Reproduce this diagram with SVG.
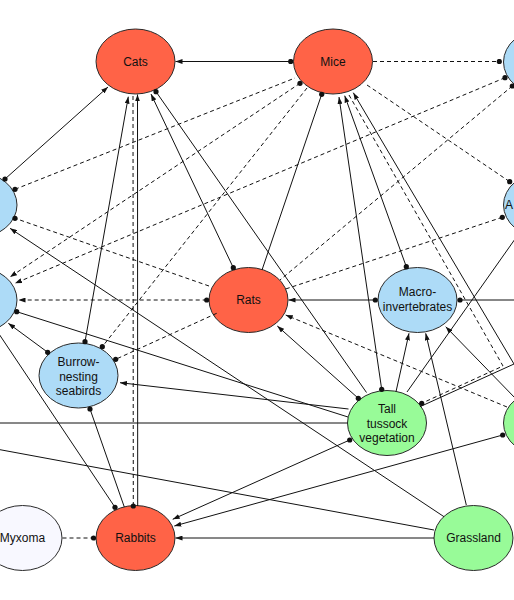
<svg xmlns="http://www.w3.org/2000/svg" width="514" height="600" viewBox="0 0 514 600">
<style>
.n ellipse{stroke:#2a2a2a;stroke-width:1}
.red{fill:#FF6347}.blue{fill:#ADDBF7}.green{fill:#98FB98}.white{fill:#F8F8FF}
text{font-family:"Liberation Sans",Arial,sans-serif;font-size:12px;fill:#111;text-anchor:middle}
.e line,.e polyline{stroke:#111;stroke-width:1;fill:none}
.e .d{stroke-dasharray:4 3}
</style>
<defs>
<marker id="arr" viewBox="0 0 7 5" refX="7" refY="2.5" markerWidth="7" markerHeight="5" orient="auto" markerUnits="userSpaceOnUse"><path d="M0,0L7,2.5L0,5z" fill="#111"/></marker>
<marker id="dot" viewBox="0 0 6 6" refX="3" refY="3" markerWidth="6" markerHeight="6" markerUnits="userSpaceOnUse"><circle cx="3" cy="3" r="2.6" fill="#111"/></marker>
</defs>
<rect width="514" height="600" fill="#fff"/>
<g class="n" id="cats"><ellipse class="red" cx="135.5" cy="61.5" rx="39.5" ry="32.5"/><text x="135.5" y="65.5">Cats</text></g>
<g class="n" id="mice"><ellipse class="red" cx="333" cy="61.5" rx="39.5" ry="32.5"/><text x="333" y="65.5">Mice</text></g>
<g class="n" id="topright"><ellipse class="blue" cx="543" cy="62" rx="39.5" ry="32.5"/></g>
<g class="n" id="upperleft"><ellipse class="blue" cx="-22.5" cy="205" rx="39.5" ry="32.5"/></g>
<g class="n" id="rightblue"><ellipse class="blue" cx="543" cy="205" rx="39.5" ry="32.5"/><text x="505" y="209" style="text-anchor:start">A</text></g>
<g class="n" id="leftblue"><ellipse class="blue" cx="-22.5" cy="300" rx="39.5" ry="32.5"/></g>
<g class="n" id="rats"><ellipse class="red" cx="248.5" cy="300" rx="39.5" ry="32.5"/><text x="248.5" y="304">Rats</text></g>
<g class="n" id="macro"><ellipse class="blue" cx="417.5" cy="300" rx="39.5" ry="32.5"/><text x="417.5" y="296">Macro-</text><text x="417.5" y="311">invertebrates</text></g>
<g class="n" id="seabirds"><ellipse class="blue" cx="78.5" cy="375.5" rx="39.5" ry="32.5"/><text x="78.5" y="366">Burrow-</text><text x="78.5" y="380.5">nesting</text><text x="78.5" y="395">seabirds</text></g>
<g class="n" id="tussock"><ellipse class="green" cx="387" cy="423" rx="39.5" ry="32.5"/><text x="387" y="412.5">Tall</text><text x="387" y="427.5">tussock</text><text x="387" y="442">vegetation</text></g>
<g class="n" id="rightgreen"><ellipse class="green" cx="543" cy="423" rx="39.5" ry="32.5"/></g>
<g class="n" id="myxoma"><ellipse class="white" cx="22.5" cy="538" rx="39.5" ry="32.5"/><text x="22.5" y="542">Myxoma</text></g>
<g class="n" id="rabbits"><ellipse class="red" cx="135.5" cy="538" rx="39.5" ry="32.5"/><text x="135.5" y="542">Rabbits</text></g>
<g class="n" id="grassland"><ellipse class="green" cx="473.5" cy="538" rx="39.5" ry="32.5"/><text x="473.5" y="542">Grassland</text></g>
<g class="e" id="connectors">
<line x1="290.7" y1="61.5" x2="175.5" y2="61.5" marker-start="url(#dot)" marker-end="url(#arr)"/>
<line x1="5" y1="179" x2="108" y2="87" marker-start="url(#dot)" marker-end="url(#arr)"/>
<line x1="85" y1="341.7" x2="128.3" y2="96.7" marker-start="url(#dot)" marker-end="url(#arr)"/>
<line x1="137.7" y1="506" x2="137.5" y2="94.5" marker-end="url(#arr)"/>
<line x1="233.3" y1="267.7" x2="151" y2="94" marker-start="url(#dot)" marker-end="url(#arr)"/>
<line x1="156" y1="91.7" x2="366.5" y2="392.5" marker-start="url(#dot)"/>
<line x1="262" y1="270" x2="321.7" y2="94.3" marker-end="url(#dot)"/>
<line x1="381.7" y1="389.3" x2="339" y2="97" marker-start="url(#dot)" marker-end="url(#arr)"/>
<line x1="406.3" y1="266.7" x2="344.7" y2="95.7" marker-start="url(#dot)" marker-end="url(#arr)"/>
<polyline points="420,406.7 514,364 353.3,92.7" marker-end="url(#arr)"/>
<line x1="375.3" y1="300" x2="288.5" y2="300" marker-start="url(#dot)" marker-end="url(#arr)"/>
<line x1="460" y1="300" x2="520" y2="300" marker-start="url(#dot)"/>
<line x1="358.3" y1="398.3" x2="277.3" y2="326" marker-start="url(#dot)" marker-end="url(#arr)"/>
<line x1="396" y1="391.7" x2="409" y2="333.3" marker-end="url(#arr)"/>
<line x1="466.3" y1="505" x2="425.7" y2="333.3" marker-end="url(#arr)"/>
<line x1="516" y1="399" x2="445.7" y2="326.7" marker-end="url(#arr)"/>
<line x1="407" y1="392" x2="520" y2="232"/>
<line x1="348.5" y1="409" x2="120" y2="382.7" marker-end="url(#arr)"/>
<line x1="16.7" y1="311.7" x2="348" y2="417" marker-start="url(#dot)"/>
<line x1="-5" y1="423" x2="347.5" y2="423"/>
<line x1="349.7" y1="440" x2="172.7" y2="519.3" marker-start="url(#dot)" marker-end="url(#arr)"/>
<line x1="502.7" y1="435" x2="174.3" y2="526" marker-start="url(#dot)" marker-end="url(#arr)"/>
<line x1="434" y1="538" x2="175.5" y2="538" marker-end="url(#arr)"/>
<line x1="444" y1="516.7" x2="10" y2="228.3" marker-end="url(#arr)"/>
<line x1="-20" y1="446" x2="434" y2="530"/>
<line x1="47.7" y1="352.3" x2="8.3" y2="323.3" marker-start="url(#dot)" marker-end="url(#arr)"/>
<line x1="115" y1="507.3" x2="-5" y2="328" marker-start="url(#dot)"/>
<line x1="124.3" y1="507" x2="90" y2="409" marker-end="url(#dot)"/>
<line class="d" x1="133.3" y1="506" x2="133" y2="95" marker-start="url(#dot)"/>
<line class="d" x1="15" y1="189.3" x2="295" y2="78" marker-start="url(#dot)"/>
<line class="d" x1="300" y1="83.3" x2="10" y2="277" marker-start="url(#dot)" marker-end="url(#arr)"/>
<line class="d" x1="307" y1="88" x2="102.3" y2="346.7" marker-end="url(#dot)"/>
<line class="d" x1="373" y1="61.5" x2="499.3" y2="61.5" marker-end="url(#dot)"/>
<line class="d" x1="367" y1="85" x2="509.7" y2="181.7" marker-end="url(#dot)"/>
<polyline class="d" points="349,95 503,366 421.7,403.3" marker-end="url(#dot)"/>
<line class="d" x1="505" y1="77.7" x2="15" y2="283.3" marker-start="url(#dot)" marker-end="url(#arr)"/>
<line class="d" x1="512.3" y1="86" x2="280" y2="280" marker-start="url(#dot)"/>
<line class="d" x1="502.3" y1="217.3" x2="285.6" y2="289" marker-start="url(#dot)"/>
<line class="d" x1="206.7" y1="300" x2="18.5" y2="300" marker-start="url(#dot)" marker-end="url(#arr)"/>
<line class="d" x1="209" y1="286" x2="15" y2="218.3" marker-end="url(#dot)"/>
<line class="d" x1="507" y1="407" x2="285.7" y2="315" marker-end="url(#arr)"/>
<line class="d" x1="216.7" y1="313.3" x2="115.7" y2="359.3" marker-end="url(#dot)"/>
<line class="d" x1="62.5" y1="538" x2="93.5" y2="538" marker-end="url(#dot)"/>
</g>
</svg>
